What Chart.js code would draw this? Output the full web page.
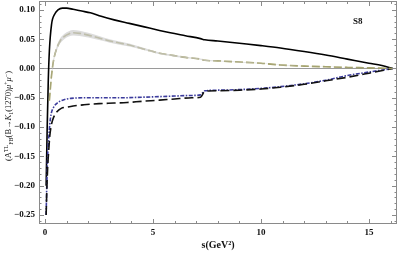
<!DOCTYPE html>
<html lang="en">
<head>
<meta charset="UTF-8">
<title>S8 forward-backward asymmetry</title>
<script src="https://cdn.jsdelivr.net/npm/chart.js"></script>
<style>
  html, body { margin: 0; padding: 0; background: #fff; }
  #wrap { width: 400px; height: 253px; }
</style>
</head>
<body>
<div id="wrap"><canvas id="chart" width="400" height="253"></canvas></div>
<script>
// values
const X_TICKS = [0, 5, 10, 15];
const Y_TICKS = [-0.25, -0.20, -0.15, -0.10, -0.05, 0.00, 0.05, 0.10];

// black solid
const S_SOLID = [0.05, 0.1, 0.15, 0.2, 0.3, 0.45, 0.6, 0.8, 1.0, 1.3, 1.7, 2.1, 2.6, 3.2, 3.9, 4.6, 5.3, 5.8, 6.5, 7.2, 7.4, 8, 9, 10, 10.9, 12, 13, 14, 15, 15.6, 16.1];
const A_SOLID = [-0.20, -0.10, -0.02, 0.03, 0.075, 0.093, 0.100, 0.103, 0.103, 0.101, 0.098, 0.095, 0.089, 0.083, 0.077, 0.071, 0.065, 0.061, 0.056, 0.051, 0.049, 0.047, 0.043, 0.039, 0.035, 0.029, 0.023, 0.016, 0.009, 0.005, 0.0];

// olive dashed, with grey band half-width
const S_OLIVE = [0.2, 0.3, 0.4, 0.55, 0.7, 0.9, 1.1, 1.3, 1.6, 2.0, 2.5, 3.0, 3.9, 4.6, 5.3, 5.8, 6.5, 7.2, 7.4, 8, 9, 10, 10.9, 12, 13, 14, 15, 16.1];
const A_OLIVE = [-0.055, -0.012, 0.015, 0.035, 0.047, 0.055, 0.059, 0.061, 0.060, 0.057, 0.052, 0.047, 0.040, 0.033, 0.026, 0.023, 0.019, 0.016, 0.014, 0.013, 0.011, 0.009, 0.006, 0.004, 0.003, 0.002, 0.001, 0.0];
const ERR_OLIVE = [0.003, 0.003, 0.004, 0.004, 0.0045, 0.0045, 0.0045, 0.0045, 0.0045, 0.004, 0.0035, 0.003, 0.0025, 0.002, 0.0015, 0.0015, 0.0012, 0.001, 0.001, 0.0008, 0.0006, 0.0005, 0.0004, 0.0003, 0.0002, 0.0001, 0.0001, 0.0];

// blue dash-dot
const S_BLUE = [0.05, 0.08, 0.12, 0.17, 0.22, 0.28, 0.4, 0.6, 0.9, 1.2, 1.8, 2.5, 3.5, 4.5, 5.3, 6, 6.8, 7.2, 7.4, 8, 9, 10, 10.9, 12, 13, 14, 15, 16.1];
const A_BLUE = [-0.25, -0.20, -0.15, -0.12, -0.095, -0.078, -0.066, -0.058, -0.053, -0.051, -0.050, -0.050, -0.050, -0.049, -0.048, -0.047, -0.046, -0.045, -0.038, -0.037, -0.036, -0.034, -0.031, -0.026, -0.020, -0.012, -0.006, 0.0];

// black long dashes
const S_DASH = [0.05, 0.08, 0.12, 0.17, 0.22, 0.3, 0.4, 0.55, 0.75, 1.0, 1.3, 1.8, 2.5, 3.2, 3.8, 4.5, 5.3, 6, 6.8, 7.2, 7.4, 8, 9, 10, 10.9, 12, 13, 14, 15, 16.1];
const A_DASH = [-0.25, -0.21, -0.17, -0.14, -0.115, -0.095, -0.083, -0.074, -0.068, -0.066, -0.064, -0.062, -0.060, -0.059, -0.058, -0.056, -0.054, -0.052, -0.050, -0.049, -0.039, -0.038, -0.037, -0.035, -0.032, -0.027, -0.021, -0.015, -0.008, 0.0];

const pts = (xs, ys) => xs.map((x, i) => ({ x: x, y: ys[i] }));
const FONT = '"Liberation Serif", "DejaVu Serif", serif';

// drop the label overflow padding Chart.js adds, keep fixed axis boxes
function fixBox(size, key) {
  return s => {
    s[key] = size;
    s.paddingTop = 0; s.paddingBottom = 0; s.paddingLeft = 0; s.paddingRight = 0;
  };
}

// Mathematica-like frame: inward ticks on all sides, zero line, labels
const framePlugin = {
  id: 'frame',
  beforeDatasetsDraw(chart) {
    const { ctx, chartArea: a, scales: { y } } = chart;
    const y0 = Math.round(y.getPixelForValue(0)) + 0.5;
    ctx.save();
    ctx.strokeStyle = '#9a9a9a';
    ctx.lineWidth = 1;
    ctx.beginPath();
    ctx.moveTo(a.left, y0);
    ctx.lineTo(a.right, y0);
    ctx.stroke();
    ctx.restore();
  },
  afterDraw(chart) {
    const { ctx, chartArea: a, scales: { x, y } } = chart;
    ctx.save();
    ctx.strokeStyle = '#8a8a8a';
    ctx.lineWidth = 1;
    ctx.strokeRect(a.left + 0.5, a.top + 0.5, a.right - a.left - 1, a.bottom - a.top - 1);
    ctx.beginPath();
    for (let s = 0; s <= 16; s++) {
      const px = Math.round(x.getPixelForValue(s)) + 0.5;
      const len = s % 5 === 0 ? 5 : 3;
      ctx.moveTo(px, a.bottom); ctx.lineTo(px, a.bottom - len);
      ctx.moveTo(px, a.top); ctx.lineTo(px, a.top + len);
    }
    for (let k = -26; k <= 11; k++) {
      const py = Math.round(y.getPixelForValue(k / 100)) + 0.5;
      const len = k % 5 === 0 ? 5 : 2.5;
      ctx.moveTo(a.left, py); ctx.lineTo(a.left + len, py);
      ctx.moveTo(a.right, py); ctx.lineTo(a.right - len, py);
    }
    ctx.stroke();

    // panel tag
    ctx.fillStyle = '#111';
    ctx.font = 'bold 9px ' + FONT;
    ctx.textAlign = 'left';
    ctx.textBaseline = 'middle';
    ctx.fillText('S8', 353, 22);

    // rotated y label with sub/superscripts
    const parts = [
      ['(A', 0, 'n'], ['TL', -3.5, 's'], ['FB', 2, 's'], ['(B\u2192', 0, 'n'], ['K', 0, 'i'],
      ['1', 2, 's'], ['(1270)', 0, 'n'], ['\u03bc', 0, 'i'], ['+', -3.5, 's'],
      ['\u03bc', 0, 'i'], ['\u2212', -3.5, 's'], [')', 0, 'n']
    ];
    const fontFor = t => t === 's' ? '6px ' + FONT : (t === 'i' ? 'italic 8.5px ' + FONT : '8.5px ' + FONT);
    let total = 0;
    parts.forEach(p => { ctx.font = fontFor(p[2]); total += ctx.measureText(p[0]).width; });
    ctx.translate(11, 116);
    ctx.rotate(-Math.PI / 2);
    ctx.textBaseline = 'alphabetic';
    let pos = -total / 2;
    parts.forEach(p => {
      ctx.font = fontFor(p[2]);
      ctx.fillText(p[0], pos, p[1]);
      pos += ctx.measureText(p[0]).width;
    });
    ctx.restore();
  }
};

new Chart(document.getElementById('chart'), {
  type: 'line',
  data: {
    datasets: [
      {
        data: pts(S_OLIVE, A_OLIVE.map((v, i) => v + ERR_OLIVE[i])),
        borderWidth: 0, pointRadius: 0, fill: '+1',
        backgroundColor: 'rgba(205,205,205,0.7)', borderColor: 'transparent',
        cubicInterpolationMode: 'monotone'
      },
      {
        data: pts(S_OLIVE, A_OLIVE.map((v, i) => v - ERR_OLIVE[i])),
        borderWidth: 0, pointRadius: 0, fill: false,
        borderColor: 'transparent', cubicInterpolationMode: 'monotone'
      },
      {
        data: pts(S_OLIVE, A_OLIVE),
        borderColor: '#9c9a5c', borderWidth: 1.6, borderDash: [8, 3],
        pointRadius: 0, fill: false, cubicInterpolationMode: 'monotone'
      },
      {
        data: pts(S_DASH, A_DASH),
        borderColor: '#111', borderWidth: 1.6, borderDash: [9, 4],
        pointRadius: 0, fill: false, cubicInterpolationMode: 'monotone'
      },
      {
        data: pts(S_BLUE, A_BLUE),
        borderColor: '#3b3b9c', borderWidth: 1.6, borderDash: [4, 1.5, 1.5, 1.5],
        pointRadius: 0, fill: false, cubicInterpolationMode: 'monotone'
      },
      {
        data: pts(S_SOLID, A_SOLID),
        borderColor: '#000', borderWidth: 1.6,
        pointRadius: 0, fill: false, cubicInterpolationMode: 'monotone'
      }
    ]
  },
  options: {
    responsive: false,
    animation: false,
    layout: { padding: { top: 1, right: 3, left: 0, bottom: 0 } },
    plugins: { legend: { display: false }, tooltip: { enabled: false } },
    scales: {
      x: {
        type: 'linear', min: -0.28, max: 16.3,
        afterBuildTicks: s => { s.ticks = X_TICKS.map(v => ({ value: v })); },
        afterFit: fixBox(29, 'height'),
        grid: { display: false, drawTicks: false }, border: { display: false },
        ticks: { color: '#111', padding: 3, maxRotation: 0, font: { family: FONT, size: 9, weight: 'bold' } },
        title: { display: true, text: 's(GeV\u00b2)', color: '#111', padding: { top: 0, bottom: 2 }, font: { family: FONT, size: 10, weight: 'bold' } }
      },
      y: {
        type: 'linear', min: -0.2654, max: 0.1152,
        afterBuildTicks: s => { s.ticks = Y_TICKS.map(v => ({ value: v })); },
        afterFit: fixBox(39, 'width'),
        grid: { display: false, drawTicks: false }, border: { display: false },
        ticks: {
          color: '#111', padding: 4, font: { family: FONT, size: 9, weight: 'bold' },
          callback: v => (v < 0 ? '\u2212' : '') + Math.abs(v).toFixed(2)
        }
      }
    }
  },
  plugins: [framePlugin]
});
</script>
</body>
</html>
